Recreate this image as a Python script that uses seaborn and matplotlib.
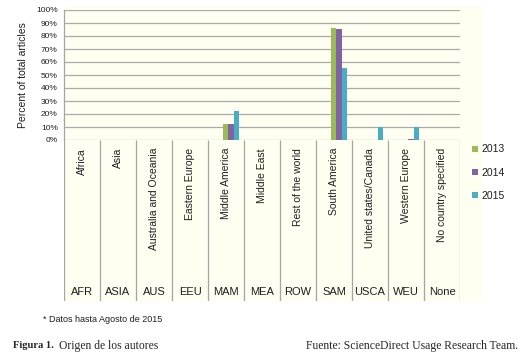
import matplotlib
matplotlib.use("Agg")
import matplotlib.pyplot as plt
from matplotlib.patches import Rectangle
from matplotlib.ticker import FuncFormatter, MultipleLocator
import seaborn as sns
import pandas as pd

# ---- data ----
codes = ["AFR", "ASIA", "AUS", "EEU", "MAM", "MEA", "ROW", "SAM", "USCA", "WEU", "None"]
regions = ["Africa", "Asia", "Australia and Oceania", "Eastern Europe", "Middle America",
           "Middle East", "Rest of the world", "South America", "United states/Canada",
           "Western Europe", "No country specified"]
years = ["2013", "2014", "2015"]
v2013 = [0, 0, 0, 0, 12.5, 0, 0, 86.5, 0, 0, 0]
v2014 = [0, 0, 0, 0, 12.3, 0, 0, 85.5, 0, 1.0, 0]
v2015 = [0, 0, 0, 0, 22.0, 0, 0, 55.5, 10.0, 10.0, 0]
colors = ["#9BBB59", "#8064A2", "#4BACC6"]

rows = []
for y, vals in zip(years, [v2013, v2014, v2015]):
    for c, v in zip(codes, vals):
        rows.append({"code": c, "year": y, "value": v})
df = pd.DataFrame(rows)

sns.set_style("white")
plt.rcParams["font.family"] = ["Liberation Sans", "DejaVu Sans"]

W, H = 524, 361
fig = plt.figure(figsize=(W / 100, H / 100), dpi=100)

def fx(px):
    return px / W

def fy(py):
    return (H - py) / H

cream = "#FEFEF1"
grid_c = "#ABABA3"
line_c = "#A4A4A4"
txt_c = "#1E1E1E"

# cream background
fig.add_artist(Rectangle((fx(64), fy(301)), fx(482) - fx(64), fy(6) - fy(301),
                         transform=fig.transFigure, facecolor=cream, edgecolor="none", zorder=0))

# main plot
ax = fig.add_axes([fx(64), fy(140), fx(460) - fx(64), fy(10) - fy(140)])
ax.set_facecolor("none")
sns.barplot(data=df, x="code", y="value", hue="year", palette=colors, width=0.46,
            saturation=1, ax=ax, linewidth=0, zorder=3)
ax.set_xlim(-0.64, 10.36)
ax.set_ylim(0, 100)
ax.yaxis.set_major_locator(MultipleLocator(10))
ax.yaxis.set_major_formatter(FuncFormatter(lambda v, p: f"{int(round(v))}%"))
for yv in range(0, 101, 10):
    ax.axhline(yv, color=grid_c, lw=0.9, zorder=1)
for s in ["top", "right", "bottom"]:
    ax.spines[s].set_visible(False)
ax.spines["left"].set_color(line_c)
ax.spines["left"].set_linewidth(0.9)
ax.tick_params(axis="y", direction="out", length=3, width=0.8, color=line_c,
               labelsize=6, pad=1.5, labelcolor=txt_c)
ax.set_xticks([])
ax.set_xlabel("")
ax.set_ylabel("Percent of total articles", fontsize=7.5, labelpad=6, color=txt_c)

handles, labels = ax.get_legend_handles_labels()
if ax.get_legend():
    ax.get_legend().remove()
fig.legend(handles, labels, loc="center left", bbox_to_anchor=(fx(472), fy(172.5)),
           frameon=False, fontsize=7.5, handlelength=0.55, handleheight=0.55,
           handletextpad=0.4, labelspacing=1.25, borderpad=0, borderaxespad=0,
           labelcolor=txt_c)

# category label table
ax2 = fig.add_axes([fx(64), fy(301), fx(460) - fx(64), fy(140) - fy(301)])
ax2.set_facecolor("none")
ax2.set_xlim(0, 11)
ax2.set_ylim(0, 1)
ax2.axis("off")
for i in range(12):
    ax2.plot([i, i], [0, 1], color=line_c, lw=0.9, solid_capstyle="butt")
for i, (c, r) in enumerate(zip(codes, regions)):
    ax2.text(i + 0.5, 0.95, r, rotation=90, ha="center", va="top", fontsize=7.5, color=txt_c)
    ax2.text(i + 0.5, 0.058, c, ha="center", va="center", fontsize=8, color=txt_c)

# notes / caption
serif = ["Liberation Serif", "DejaVu Serif"]
fig.text(fx(43), fy(320), "* Datos hasta Agosto de 2015", fontsize=6.5, va="center", ha="left",
         color=txt_c)
fig.text(fx(13), fy(345.5), "Figura 1.", fontsize=7.6, fontweight="bold", va="center", ha="left",
         family=serif)
fig.text(fx(59), fy(345.5), "Origen de los autores", fontsize=8.4, va="center", ha="left",
         family=serif)
fig.text(fx(306), fy(345.5), "Fuente: ScienceDirect Usage Research Team.", fontsize=8.4,
         va="center", ha="left", family=serif)

fig.savefig("out.png", dpi=100)
